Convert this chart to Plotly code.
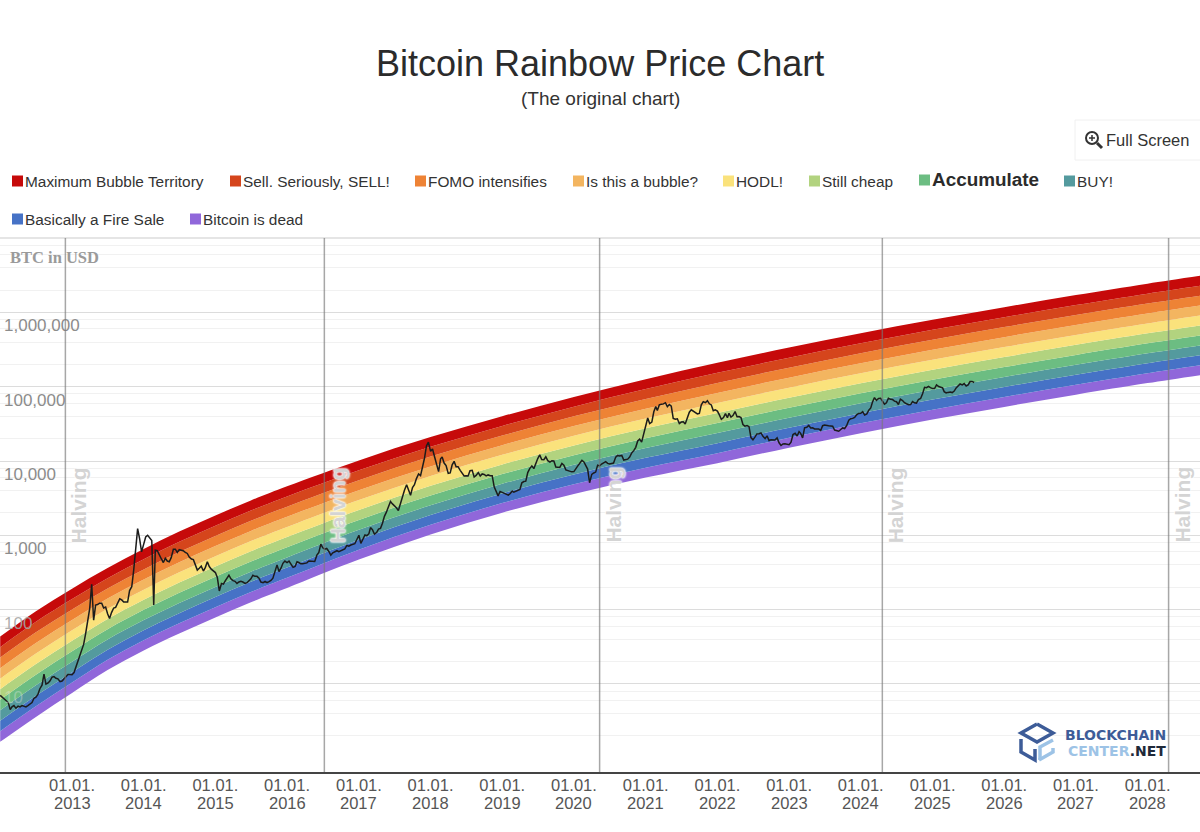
import plotly.graph_objects as go

# sample dates for the rainbow edges
edge_dates = ["2012-01-01", "2012-07-01", "2013-01-01", "2013-07-01", "2014-01-01", "2014-07-01",
              "2015-01-01", "2015-07-01", "2016-01-01", "2017-01-01", "2018-01-01", "2019-01-01",
              "2020-01-01", "2021-01-01", "2022-01-01", "2023-01-01", "2024-01-01", "2025-01-01",
              "2026-01-01", "2027-01-01", "2028-01-01", "2028-09-24"]

# band edges, log10 of USD (top of red to bottom of purple)
edge_00 = [1.636, 1.977, 2.282, 2.560, 2.814, 3.050, 3.267, 3.470, 3.660, 4.008, 4.322, 4.603, 4.863, 5.101, 5.322, 5.527, 5.721, 5.902, 6.071, 6.234, 6.388, 6.494]
edge_01 = [1.494, 1.835, 2.141, 2.423, 2.678, 2.913, 3.130, 3.333, 3.523, 3.875, 4.191, 4.473, 4.732, 4.969, 5.187, 5.392, 5.586, 5.768, 5.937, 6.100, 6.254, 6.360]
edge_02 = [1.353, 1.693, 2.001, 2.285, 2.541, 2.776, 2.992, 3.196, 3.386, 3.741, 4.060, 4.343, 4.602, 4.836, 5.052, 5.257, 5.452, 5.633, 5.803, 5.966, 6.120, 6.226]
edge_03 = [1.211, 1.550, 1.860, 2.148, 2.405, 2.638, 2.855, 3.059, 3.249, 3.608, 3.928, 4.213, 4.471, 4.704, 4.917, 5.123, 5.317, 5.499, 5.668, 5.832, 5.986, 6.093]
edge_04 = [1.070, 1.408, 1.720, 2.010, 2.268, 2.501, 2.717, 2.922, 3.112, 3.474, 3.797, 4.083, 4.341, 4.572, 4.782, 4.988, 5.183, 5.364, 5.534, 5.698, 5.852, 5.959]
edge_05 = [0.928, 1.266, 1.579, 1.873, 2.132, 2.364, 2.580, 2.785, 2.976, 3.341, 3.666, 3.954, 4.210, 4.440, 4.647, 4.853, 5.048, 5.230, 5.400, 5.564, 5.719, 5.825]
edge_06 = [0.786, 1.124, 1.438, 1.735, 1.996, 2.227, 2.443, 2.647, 2.839, 3.207, 3.535, 3.824, 4.079, 4.307, 4.511, 4.718, 4.913, 5.096, 5.266, 5.429, 5.585, 5.691]
edge_07 = [0.645, 0.982, 1.298, 1.598, 1.859, 2.090, 2.305, 2.510, 2.702, 3.074, 3.404, 3.694, 3.949, 4.175, 4.376, 4.583, 4.779, 4.961, 5.132, 5.295, 5.451, 5.557]
edge_08 = [0.503, 0.839, 1.157, 1.460, 1.723, 1.952, 2.168, 2.373, 2.565, 2.940, 3.272, 3.564, 3.818, 4.043, 4.241, 4.449, 4.644, 4.827, 4.997, 5.161, 5.317, 5.424]
edge_09 = [0.362, 0.697, 1.017, 1.323, 1.586, 1.815, 2.030, 2.236, 2.428, 2.807, 3.141, 3.434, 3.688, 3.910, 4.106, 4.314, 4.510, 4.692, 4.863, 5.027, 5.183, 5.290]
edge_10 = [0.220, 0.555, 0.876, 1.185, 1.450, 1.678, 1.893, 2.099, 2.291, 2.673, 3.010, 3.304, 3.557, 3.778, 3.971, 4.179, 4.375, 4.558, 4.729, 4.893, 5.049, 5.156]

band_names = ["Maximum Bubble Territory", "Sell. Seriously, SELL!", "FOMO intensifies", "Is this a bubble?", "HODL!",
              "Still cheap", "Accumulate", "BUY!", "Basically a Fire Sale", "Bitcoin is dead"]
band_colors = ["#c60a0a", "#d5451c", "#ee8335", "#f3b560", "#fae27c", "#b2d37f", "#6cbd82", "#549a9e", "#4672c6", "#9067da"]

# price in USD, three readings a month (1st, 11th, 21st)
btc_2012 = [7, 6.6, 6.2, 6, 5.6, 4.5, 4.9, 5.1, 4.7, 5, 4.9, 5.1, 5, 4.9, 5.1, 5.3, 5.6, 6.4, 6.6, 7.2, 8.6, 9.6, 13.5, 9.9, 10.3, 11, 12.3, 12.5, 11.9, 11.7, 10.7, 10.9, 11.6, 12.6, 13.4, 13.4]
btc_2013 = [13.3, 14.2, 16.9, 20.4, 24, 29.7, 34, 47, 70, 104, 219, 72, 115, 117, 122, 122, 105, 108, 88, 76, 91, 105, 107, 122, 140, 135, 126, 126, 126, 180, 203, 340, 720, 1230, 900, 600]
btc_2014 = [760, 950, 1000, 900, 850, 115, 630, 620, 560, 480, 430, 490, 450, 440, 500, 650, 650, 590, 640, 630, 620, 590, 570, 510, 480, 470, 410, 340, 360, 385, 330, 370, 440, 380, 350, 330]
btc_2015 = [315, 270, 178, 225, 220, 245, 260, 290, 260, 245, 240, 225, 235, 240, 235, 225, 230, 245, 260, 290, 280, 280, 265, 235, 230, 240, 230, 238, 247, 265, 330, 400, 325, 360, 420, 450]
btc_2016 = [430, 450, 410, 370, 380, 440, 430, 415, 415, 420, 425, 450, 450, 455, 445, 540, 590, 760, 680, 650, 665, 605, 540, 580, 600, 620, 600, 615, 640, 655, 730, 715, 740, 750, 770, 870]
btc_2017 = [1000, 780, 890, 1010, 990, 1050, 1270, 1190, 1040, 1090, 1210, 1240, 1450, 1800, 2050, 2450, 2850, 2650, 2500, 2350, 2150, 2750, 3400, 4050, 4800, 4100, 3450, 4400, 4800, 5800, 6700, 6350, 8100, 10900, 16000, 18000]
btc_2018 = [13500, 14500, 11500, 9100, 7200, 10700, 11300, 9400, 8700, 6800, 6900, 8900, 9900, 8400, 8400, 7500, 6800, 6300, 6350, 6300, 7400, 7500, 6100, 6400, 7000, 6300, 6700, 6600, 6300, 6500, 6350, 6350, 4500, 4000, 3400, 3900]
btc_2019 = [3800, 3650, 3550, 3480, 3650, 3950, 3800, 3900, 4030, 4150, 5100, 5300, 5350, 7000, 7900, 8600, 7900, 9600, 10800, 12100, 10500, 10400, 11400, 10100, 9700, 10100, 10000, 8300, 8300, 8200, 9300, 8800, 7600, 7400, 7200, 7150]
btc_2020 = [7200, 8000, 8600, 9400, 10200, 9700, 8600, 7800, 5100, 6600, 6900, 7100, 8800, 8600, 9100, 9500, 9800, 9300, 9100, 9250, 9400, 11300, 11900, 11700, 11900, 10300, 10400, 10600, 11300, 12800, 13800, 15300, 18600, 19700, 18000, 23000]
btc_2021 = [29000, 38000, 32000, 33500, 46000, 54000, 48000, 57000, 58000, 58800, 61000, 54000, 57800, 55000, 37500, 36500, 37000, 32000, 33500, 33800, 31500, 39800, 45500, 48900, 47000, 44800, 43000, 43800, 57000, 63000, 61000, 65000, 59000, 57000, 47500, 49000]
btc_2022 = [47000, 41800, 36500, 38500, 43500, 38400, 44000, 39000, 41000, 46300, 39500, 39700, 38500, 31000, 29500, 30000, 29000, 20700, 19300, 21000, 23200, 23300, 23900, 21500, 20100, 21800, 18900, 19300, 19100, 19200, 20500, 17600, 16200, 17000, 17100, 16800]
btc_2023 = [16600, 17900, 22700, 23700, 21700, 24900, 23600, 20500, 28000, 28500, 30200, 27800, 28000, 27000, 27000, 27000, 25800, 29900, 30600, 30600, 29900, 29700, 29400, 26100, 25900, 25200, 26600, 27900, 27400, 29900, 35400, 37100, 37500, 38700, 41800, 43700]
btc_2024 = [44000, 46300, 41600, 43200, 48300, 51800, 62400, 71500, 65500, 69700, 70000, 64900, 58300, 60800, 70100, 67700, 67300, 64100, 62900, 57700, 68200, 65300, 60900, 59000, 57300, 57600, 63200, 60800, 60300, 67400, 69500, 80400, 98300, 97200, 101000, 97200]
btc_2025 = [94400, 94500, 106000, 100600, 97400, 96600, 86000, 82800, 84000, 85000, 83500, 87500, 96500, 104000, 109000, 105700, 110200, 102000, 105700, 117500, 118000, 114000]

halving_dates = ["2012-11-28", "2016-07-09", "2020-05-11", "2024-04-20", "2028-04-17"]
x_tick_years = list(range(2013, 2029))
y_tick_vals = [10, 100, 1000, 10000, 100000, 1000000, 10000000]
y_tick_text = ["<span style='color:rgba(235,235,235,0.35)'>10</span>", "<span style='color:rgba(165,165,165,0.9)'>100</span>",
               "1,000", "10,000", "100,000", "1,000,000", ""]
y_minor_vals = [m * 10 ** d for d in range(0, 7) for m in (2, 4, 6, 8)]

FONT = "Liberation Sans"
PLOT_TOP = 238
PLOT_BOTTOM = 772


def px(x):
    return x / 1200


def py(y):
    return (PLOT_BOTTOM - y) / (PLOT_BOTTOM - PLOT_TOP)


def label(x, y, text, size, color, anchor="left", weight="normal", family=FONT, shift=-2):
    return dict(x=px(x), xref="paper", xanchor=anchor, y=py(y), yref="paper", yanchor="middle", text=text, showarrow=False,
                xshift=shift, font=dict(family=family, size=size, weight=weight, color=color))


edges = [edge_00, edge_01, edge_02, edge_03, edge_04, edge_05, edge_06, edge_07, edge_08, edge_09, edge_10]

btc_years = {2012: btc_2012, 2013: btc_2013, 2014: btc_2014, 2015: btc_2015, 2016: btc_2016, 2017: btc_2017, 2018: btc_2018,
             2019: btc_2019, 2020: btc_2020, 2021: btc_2021, 2022: btc_2022, 2023: btc_2023, 2024: btc_2024, 2025: btc_2025}
btc_x = []
btc_y = []
for year, values in btc_years.items():
    days = [f"{year}-{m:02d}-{d:02d}" for m in range(1, 13) for d in (1, 11, 21)]
    btc_x += days[:len(values)]
    btc_y += values

fig = go.Figure()

# rainbow, drawn from the bottom edge upwards
fig.add_trace(go.Scatter(x=edge_dates, y=[10 ** v for v in edges[10]], mode="lines", line=dict(width=0, shape="spline"),
                         showlegend=False, hoverinfo="skip"))
for i in range(9, -1, -1):
    fig.add_trace(go.Scatter(x=edge_dates, y=[10 ** v for v in edges[i]], mode="lines", name=band_names[i],
                             line=dict(width=0, shape="spline"), fill="tonexty", fillcolor=band_colors[i],
                             showlegend=False, hoverinfo="name"))

fig.add_trace(go.Scatter(x=btc_x, y=btc_y, mode="lines", name="BTC", line=dict(color="#1c1c1c", width=1.5),
                         showlegend=False))

shapes = []
annotations = []

# top border of the plot
shapes.append(dict(type="line", xref="paper", yref="paper", x0=0, x1=1, y0=1, y1=1, line=dict(color="#dcdcdc", width=1.5)))

for d in halving_dates:
    shapes.append(dict(type="line", xref="x", yref="paper", x0=d, x1=d, y0=0, y1=1,
                       line=dict(color="rgba(120,120,120,0.65)", width=1.5)))
    annotations.append(dict(x=d, xref="x", y=py(505), yref="paper", yanchor="middle", xshift=13, text="Halving", textangle=-90,
                            showarrow=False, font=dict(family=FONT, size=21, weight="bold", color="#d4d4d4",
                                                       shadow="0 0 2px #fff, 0 0 2px #fff, 0 0 3px #fff")))

# second line of the date labels, tighter than the axis allows
for y in x_tick_years:
    annotations.append(dict(x=f"{y}-01-01", xref="x", y=py(803), yref="paper", yanchor="middle", text=str(y), showarrow=False,
                            font=dict(family=FONT, size=16.5, color="#555555")))

# title block
annotations.append(label(600, 63, "Bitcoin Rainbow Price Chart", 36, "#2b2b2b", anchor="center", shift=0))
annotations.append(label(600, 98, "(The original chart)", 19, "#333333", anchor="center", shift=0))

# legend row by row, one entry is larger and bold in the original
legend_pos = [(25, 181), (243, 181), (428, 181), (586, 181), (736, 181), (822, 181), (932, 180), (1077, 181), (25, 219), (203, 219)]
for name, color, (lx, ly) in zip(band_names, band_colors, legend_pos):
    shapes.append(dict(type="rect", xref="paper", yref="paper", x0=px(lx - 13), x1=px(lx - 2), y0=py(ly - 5.5), y1=py(ly + 5.5),
                       fillcolor=color, line=dict(width=0)))
    bold = name == "Accumulate"
    annotations.append(label(lx, ly, name, 18.9 if bold else 15.4, "#2b2b2b" if bold else "#333333", weight="bold" if bold else "normal"))

# full screen button
shapes.append(dict(type="rect", xref="paper", yref="paper", x0=px(1075), x1=px(1215), y0=py(120), y1=py(160),
                   fillcolor="white", line=dict(color="#f0f0f0", width=1)))
shapes.append(dict(type="circle", xref="paper", yref="paper", x0=px(1086), x1=px(1098), y0=py(132), y1=py(144),
                   line=dict(color="#333333", width=2)))
shapes.append(dict(type="line", xref="paper", yref="paper", x0=px(1097), x1=px(1102), y0=py(143), y1=py(148),
                   line=dict(color="#333333", width=3)))
shapes.append(dict(type="line", xref="paper", yref="paper", x0=px(1089), x1=px(1095), y0=py(138), y1=py(138),
                   line=dict(color="#333333", width=1.5)))
shapes.append(dict(type="line", xref="paper", yref="paper", x0=px(1092), x1=px(1092), y0=py(135), y1=py(141),
                   line=dict(color="#333333", width=1.5)))
annotations.append(label(1106, 140, "Full Screen", 16.5, "#333333"))

annotations.append(label(10, 257, "BTC in USD", 16.5, "#9a9a9a", weight="bold", family="Liberation Serif"))

# logo
dark_blue = "#3d5c98"
light_blue = "#9dc3e6"
logo_paths = [
    ([(1037, 724), (1053, 733), (1037, 742), (1021, 733), (1037, 724)], dark_blue),
    ([(1021, 739), (1021, 752), (1035, 760), (1035, 749)], dark_blue),
    ([(1039, 760), (1053, 752), (1053, 748)], light_blue),
    ([(1053, 740), (1040, 747), (1040, 760)], light_blue),
]
for pts, color in logo_paths:
    path = "M " + " L ".join(f"{px(a):.5f},{py(b):.5f}" for a, b in pts)
    shapes.append(dict(type="path", xref="paper", yref="paper", path=path, line=dict(color=color, width=3.5)))
annotations.append(label(1166, 735, "BLOCKCHAIN", 14, dark_blue, anchor="right", weight="bold", family="DejaVu Sans", shift=2))
annotations.append(label(1166, 751, f"<span style='color:{light_blue}'>CENTER</span>.NET", 14, "#1f2a3a", anchor="right",
                         weight="bold", family="DejaVu Sans", shift=2))

fig.update_layout(
    width=1200,
    height=832,
    margin=dict(l=0, r=0, t=PLOT_TOP, b=832 - PLOT_BOTTOM),
    paper_bgcolor="white",
    plot_bgcolor="white",
    showlegend=False,
    shapes=shapes,
    annotations=annotations,
    xaxis=dict(
        type="date",
        range=["2011-12-31", "2028-09-24"],
        tickmode="array",
        tickvals=[f"{y}-01-01" for y in x_tick_years],
        ticktext=["01.01." for y in x_tick_years],
        ticklabelstandoff=-3,
        tickfont=dict(family=FONT, size=16.5, color="#555555"),
        showgrid=False,
        zeroline=False,
        showline=True,
        linecolor="#444444",
        linewidth=1.5,
        ticks="",
    ),
    yaxis=dict(
        type="log",
        range=[-0.187, 7.003],
        tickmode="array",
        tickvals=y_tick_vals,
        ticktext=y_tick_text,
        anchor="free",
        position=0,
        side="right",
        ticklabelstandoff=3,
        ticklabelshift=13,
        layer="above traces",
        tickfont=dict(family=FONT, size=17, color="#8c8c8c"),
        showgrid=True,
        gridcolor="#dcdcdc",
        gridwidth=1.2,
        zeroline=False,
        showline=False,
        ticks="",
        minor=dict(tickmode="array", tickvals=y_minor_vals, showgrid=True, gridcolor="#f1f1f1", gridwidth=1, ticks=""),
    ),
)

fig.write_html("out.html", config={"displayModeBar": False}, post_script="document.body.style.margin='0'")
